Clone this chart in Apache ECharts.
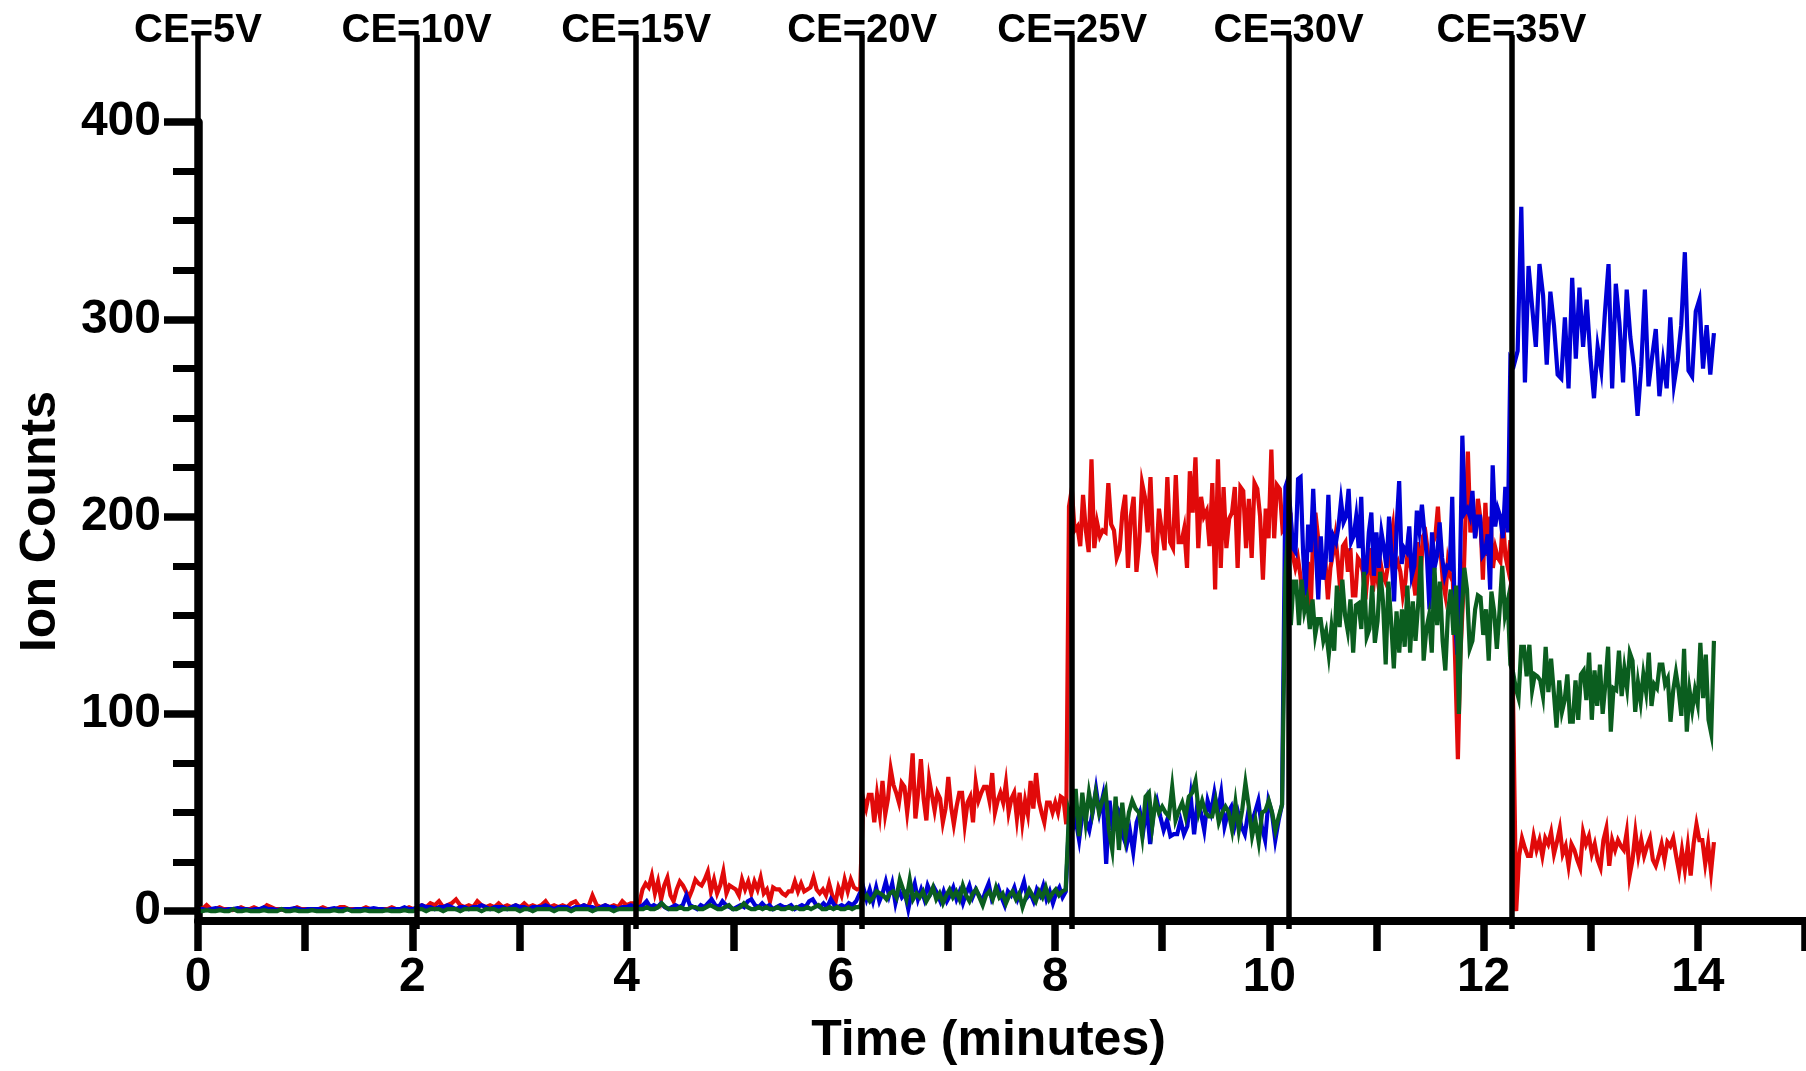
<!DOCTYPE html>
<html>
<head>
<meta charset="utf-8">
<script src="https://cdn.jsdelivr.net/npm/echarts@6/dist/echarts.min.js"></script>
<style>html,body{margin:0;padding:0;background:#fff;}#chart{width:1806px;height:1071px;}</style>
</head>
<body>
<div id="chart"></div>
<script>
// CE annotation lines (minutes) and their labels
const ceTimes = [0, 2.04, 4.09, 6.2, 8.16, 10.18, 12.26];
const ceLabels = ['CE=5V', 'CE=10V', 'CE=15V', 'CE=20V', 'CE=25V', 'CE=30V', 'CE=35V'];
// acquisition windows: each segment's scans are evenly spaced from its start to the next start
const segStart = [0, 2.05, 4.12, 6.21, 8.13, 10.15, 12.25];
const runEnd = 14.15;
// tick labels
const xLabelValues = [0, 2, 4, 6, 8, 10, 12, 14];
const yLabelValues = [0, 100, 200, 300, 400];
const yMinorValues = [25, 50, 75, 125, 150, 175, 225, 250, 275, 325, 350, 375];

// red trace
const red1 = [2,1,3,1,1,2,1,1,0.5,1,2,1,1,2,1,1,3,2,1,1,0.5,1,1,2,1,1,1,0.5,1,2,1,1,1,2,2,1,1,1,1,2,1,0.5,1,1,1,2,1,1,1,2,1];
const red2 = [2,3,2,4,3,5,2,3,4,6,3,2,3,2,5,3,2,3,2,4,2,3,2,3,2,4,2,3,2,3,5,2,3,2,3,2,4,5,2,3,2,8,3,2,3,2,3,2,5,3,4,4];
const red3 = [4,11,14,12,18,9,15,6,13,17,8,5,11,15,13,10,7,11,16,14,13,16,20,10,16,9,13,20,9,13,12,11,8,16,11,15,9,15,11,17,9,11,5,12,11,11,9,8,10,10,15,10,14,10,11,12,17,11,9,11,8,14,8,4,12,8,16,10,16,12,11,11];
const red4 = [57,52,59,59,45,59,49,66,49,57,72,64,60,55,65,63,50,62,80,47,60,77,57,46,67,59,51,60,57,45,52,68,53,44,53,60,60,44,55,58,45,65,56,60,63,63,56,70,50,56,60,55,65,50,57,60,47,60,45,56,49,66,52,70,56,50,45,55,55,50,55,50,58,57,44];
const red5 = [205,214,193,195,185,211,193,182,229,184,197,190,193,192,217,196,193,179,183,202,211,174,200,210,172,187,217,210,192,220,182,176,204,193,183,220,187,184,221,187,187,194,174,223,202,230,184,210,200,203,185,217,163,229,174,215,184,199,202,215,174,215,213,184,209,179,217,214,200,168,204,189,234,189,216,214,193];
const red6 = [195,160,202,180,174,179,170,158,160,177,148,187,202,190,172,174,177,158,174,181,190,177,162,185,187,172,184,160,160,179,177,172,158,172,184,162,175,167,177,170,167,175,187,195,174,177,172,160,167,184,175,170,160,187,167,190,192,182,170,187,190,205,184,167,160,177,170,167,123,77,130,157,197,233,192,200,190,209,199,168,207,180,200,174,184,179,177,200,180,174];
const red7 = [188,100,0,28,37,32,28,28,38,31,36,28,37,34,40,29,35,42,29,33,23,34,31,26,22,40,34,38,29,34,26,22,36,42,23,36,31,36,33,31,40,18,26,40,28,36,28,33,37,26,23,28,34,26,35,33,37,28,20,31,21,33,18,34,44,36,36,24,34,20,35];

// blue trace
const blue1 = [1,1,0.5,1,1.5,1,0.5,1,1,1.5,1,1,0.5,1,1,2,1,1,0.5,1,1,1,1.5,1,0.5,1,1,1,1,0.5,1,1.5,1,1,1,0.5,1,1,1,1,1.5,1,1,0.5,1,1,1,2,1,1];
const blue2 = [2,3,2,2,1,2,2,3,2,1,2,2,1,2,2,3,2,1,2,2,2,1,2,3,2,2,1,2,2,2,3,2,1,2,2,2,1,2,2,3,2,2,1,2,3,2,2,1,2,2,3,2];
const blue3 = [2,3,5,2,3,2,4,2,1,2,3,2,3,8,3,2,1,3,2,4,6,3,2,5,3,2,1,2,3,2,5,6,3,2,4,2,3,1,2,3,2,2,3,1,2,3,2,5,6,3,2,4,2,6,3,2,3,2,4,3,5,9];
const blue4 = [12,6,11,5,12,5,9,15,8,14,4,11,7,9,1,9,14,6,11,6,13,9,12,9,5,10,5,8,12,6,10,4,9,13,7,11,8,5,10,14,6,9,12,7,3,10,8,12,6,10,15,7,9,5,11,8,13,6,10,4,9,12,7,10];
const blue5 = [45,41,46,36,50,46,41,50,62,50,58,24,56,41,53,50,38,33,41,30,45,50,41,53,34,50,56,48,41,46,38,39,39,46,39,43,58,39,55,50,41,56,50,60,50,60,43,50,53,43,50,43,39,50,45,50,56,43,36,56,50,36,46,54];
const blue6 = [215,219,202,184,182,219,220,182,160,196,182,214,184,158,190,168,179,211,177,190,187,195,208,197,200,214,187,190,200,184,210,170,172,192,202,170,192,174,192,184,174,200,180,157,195,218,176,184,182,195,170,175,203,193,206,192,179,153,192,174,180,197,179,170,175,174,210,150,130,167,241,202,204,200,213,189,200,200,180,182,191,163,226,195,204,200,189,215,192];
const blue7 = [280,277,284,357,268,327,306,286,328,312,277,314,297,272,270,301,265,321,280,316,286,310,281,260,286,274,303,328,265,318,298,268,315,291,276,251,276,315,266,281,295,261,279,265,301,267,279,297,334,274,271,304,310,275,297,272,293];

// green trace
const green1 = [0,0,0.5,0,0,0.5,0,0,1,0,0,0.5,0,0,0,0.5,0,0,0,1,0,0,0.5,0,0,0,0.5,0,0,0,0,0.5,0,0,1,0,0,0,0.5,0,0,0,0,0.5,0,0,0,0.5,0,0];
const green2 = [1,1,0,1,1,1,0,1,1,1,0,1,1,1,1,0,1,1,1,0,1,1,1,1,0,1,1,0,1,1,1,1,0,1,1,1,0,1,1,1,1,0,1,1,1,1,0,1,1,1,1,1];
const green3 = [1,1,2,1,1,2,4,2,1,1,1,2,1,1,2,2,1,1,2,3,2,1,1,2,3,1,1,2,4,2,1,1,2,1,2,1,1,2,1,1,2,1,2,1,1,2,1,2,3,1,1,2,1,2,1,1,2,1,2,2];
const green4 = [6,8,5,7,10,9,8,6,9,10,7,16,11,6,16,6,9,7,10,5,8,12,6,9,4,8,11,7,10,6,13,8,5,9,11,7,3,8,10,6,12,7,9,4,8,10,6,9,2,7,11,8,5,10,7,12,6,9,11,8,10,11];
const green5 = [50,43,62,38,60,45,60,50,60,50,56,61,41,31,58,31,55,38,50,56,52,50,38,58,60,43,56,50,53,50,48,63,46,51,55,48,58,60,66,50,56,50,48,48,56,45,50,53,50,41,55,41,51,65,53,38,46,35,50,51,56,50,41,48,54];
const green6 = [170,194,145,167,167,145,168,152,158,143,158,140,148,148,137,142,130,144,132,165,144,168,150,142,158,131,155,156,143,172,139,143,165,136,147,172,157,125,167,147,123,152,131,153,134,165,131,157,137,156,180,127,143,150,131,174,145,167,137,122,152,163,140,165,100,150,174,163,133,137,153,160,159,140,153,127,162,152,133,152,175,150,157];
const green7 = [125,121,113,108,134,134,119,135,112,120,119,117,109,134,111,128,111,93,117,101,107,120,96,96,117,97,120,122,107,131,97,122,104,125,100,115,134,91,113,112,132,109,123,113,131,127,101,116,106,120,111,131,104,115,113,125,125,115,118,96,112,121,112,99,133,91,112,102,112,105,136,108,130,97,90,137];

const redSegs = [red1, red2, red3, red4, red5, red6, red7];
const blueSegs = [blue1, blue2, blue3, blue4, blue5, blue6, blue7];
const greenSegs = [green1, green2, green3, green4, green5, green6, green7];

function buildTrace(segs) {
  const pts = [];
  segs.forEach((vals, k) => {
    const start = segStart[k];
    const last = k === segs.length - 1;
    const end = last ? runEnd : segStart[k + 1];
    const dt = last ? (end - start) / (vals.length - 1) : (end - start) / vals.length;
    vals.forEach((v, j) => pts.push([start + j * dt, v]));
  });
  return pts;
}

const FONT = 'Liberation Sans, Arial, Helvetica, sans-serif';
const GRID_LEFT = 198, GRID_W = 1607;

const traceStyle = (color) => ({
  type: 'line', xAxisIndex: 0, yAxisIndex: 0,
  showSymbol: false, symbol: 'none', silent: true, z: 3,
  lineStyle: { color: color, width: 4.2, join: 'miter' },
  emphasis: { disabled: true }
});

const chart = echarts.init(document.getElementById('chart'), null, { renderer: 'canvas' });
chart.setOption({
  animation: false,
  backgroundColor: '#ffffff',
  textStyle: { fontFamily: FONT },
  grid: [
    { left: GRID_LEFT, top: 122, width: GRID_W, height: 807 },
    { left: GRID_LEFT, top: 35, width: GRID_W, height: 894 }
  ],
  xAxis: [
    {
      type: 'value', gridIndex: 0, min: 0, max: 15, interval: 1,
      name: 'Time (minutes)', nameLocation: 'middle', nameGap: 95,
      nameTextStyle: { fontSize: 50, fontWeight: 'bold', color: '#000', fontFamily: FONT, padding: [0, 26, 0, 0] },
      axisLine: { onZero: false, lineStyle: { color: '#000', width: 8 } },
      axisTick: { show: true, length: 30, lineStyle: { color: '#000', width: 7.5 } },
      axisLabel: { customValues: xLabelValues, margin: 33, fontSize: 48, fontWeight: 'bold', color: '#000', fontFamily: FONT },
      splitLine: { show: false }
    },
    { type: 'value', gridIndex: 1, min: 0, max: 15, show: false }
  ],
  yAxis: [
    {
      type: 'value', gridIndex: 0, position: 'left', min: -5, max: 400,
      name: 'Ion Counts', nameLocation: 'middle', nameGap: 132,
      nameTextStyle: { fontSize: 50, fontWeight: 'bold', color: '#000', fontFamily: FONT },
      axisLine: { show: true, onZero: false, lineStyle: { color: '#000', width: 8.5 } },
      axisTick: { show: true, customValues: yLabelValues, length: 34, lineStyle: { color: '#000', width: 7.5 } },
      axisLabel: { customValues: yLabelValues, margin: 37, fontSize: 48, fontWeight: 'bold', color: '#000', fontFamily: FONT },
      splitLine: { show: false }
    },
    {
      type: 'value', gridIndex: 0, position: 'left', offset: 0, min: -5, max: 400,
      axisLine: { show: false },
      axisTick: { show: true, customValues: yMinorValues, length: 25, lineStyle: { color: '#000', width: 7 } },
      axisLabel: { show: false },
      splitLine: { show: false }
    },
    { type: 'value', gridIndex: 1, min: 0, max: 1, show: false }
  ],
  series: [
    {
      type: 'line', xAxisIndex: 1, yAxisIndex: 2, data: [], silent: true, z: 1,
      markLine: {
        silent: true, animation: false, symbol: ['none', 'none'],
        lineStyle: { color: '#000', width: 5.5, type: 'solid' },
        label: { show: true, position: 'end', distance: -16, fontSize: 40, fontWeight: 'bold', color: '#000', fontFamily: FONT, formatter: (p) => p.name },
        emphasis: { disabled: true },
        data: ceTimes.map((t, i) => ({ xAxis: t, name: ceLabels[i] }))
      }
    },
    Object.assign(traceStyle('#e10a0a'), { name: 'red', data: buildTrace(redSegs) }),
    Object.assign(traceStyle('#0000d6'), { name: 'blue', data: buildTrace(blueSegs) }),
    Object.assign(traceStyle('#0b5e1f'), { name: 'green', data: buildTrace(greenSegs) })
  ]
});
</script>
</body>
</html>
